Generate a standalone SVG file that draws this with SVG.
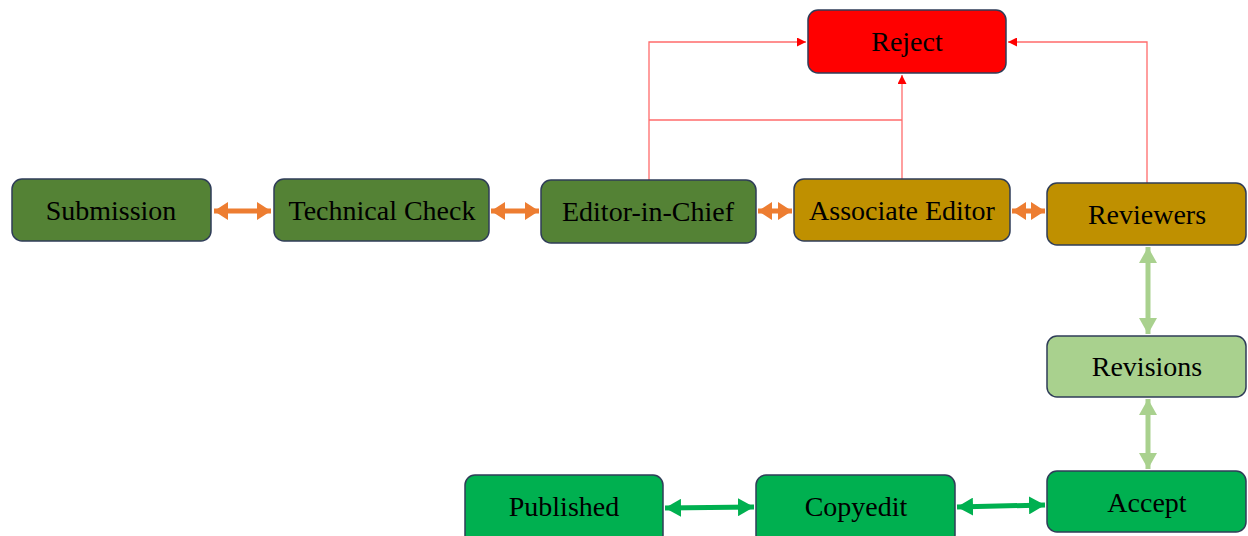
<svg xmlns="http://www.w3.org/2000/svg" width="1248" height="536" viewBox="0 0 1248 536">
<defs>
<style>
.box{stroke:#2F3D58;stroke-width:1.5}
.lbl{font-family:"Liberation Serif","Times New Roman",serif;font-size:28px;fill:#000;text-anchor:middle}
.olive{fill:#548235}.gold{fill:#BF9000}.red{fill:#FF0000}.lg{fill:#A9D18E}.gr{fill:#00B050}
.rl{stroke:#FF6B6B;stroke-width:1.3;fill:none}
.oa{stroke:#ED7D31;stroke-width:5;fill:none}
.la{stroke:#A9D18E;stroke-width:5;fill:none}
.ga{stroke:#00B050;stroke-width:5;fill:none}
</style>
<marker id="mo" viewBox="0 0 14 18" refX="14" refY="9" markerWidth="14" markerHeight="18" markerUnits="userSpaceOnUse" orient="auto-start-reverse"><path d="M0,0 L14,9 L0,18 Z" fill="#ED7D31"/></marker>
<marker id="ml" viewBox="0 0 16 18" refX="16" refY="9" markerWidth="16" markerHeight="18" markerUnits="userSpaceOnUse" orient="auto-start-reverse"><path d="M0,0 L16,9 L0,18 Z" fill="#A9D18E"/></marker>
<marker id="mg" viewBox="0 0 16 18" refX="16" refY="9" markerWidth="16" markerHeight="18" markerUnits="userSpaceOnUse" orient="auto-start-reverse"><path d="M0,0 L16,9 L0,18 Z" fill="#00B050"/></marker>
<marker id="mr" viewBox="0 0 9 9" refX="9" refY="4.5" markerWidth="9" markerHeight="9" markerUnits="userSpaceOnUse" orient="auto"><path d="M0,0 L9,4.5 L0,9 Z" fill="#FF0000"/></marker>
</defs>
<rect width="1248" height="536" fill="#fff"/>
<g id="connectors">
<polyline class="rl" points="649,180 649,42 806,42" marker-end="url(#mr)"/>
<line class="rl" x1="649" y1="120" x2="902" y2="120"/>
<line class="rl" x1="902" y1="179" x2="902" y2="75" marker-end="url(#mr)"/>
<polyline class="rl" points="1147,183 1147,42 1008,42" marker-end="url(#mr)"/>
<line class="oa" x1="214" y1="211" x2="271" y2="211" marker-start="url(#mo)" marker-end="url(#mo)"/>
<line class="oa" x1="491" y1="211" x2="539" y2="211" marker-start="url(#mo)" marker-end="url(#mo)"/>
<line class="oa" x1="758" y1="211" x2="792" y2="211" marker-start="url(#mo)" marker-end="url(#mo)"/>
<line class="oa" x1="1012" y1="211" x2="1045" y2="211" marker-start="url(#mo)" marker-end="url(#mo)"/>
<line class="la" x1="1148" y1="247" x2="1148" y2="334" marker-start="url(#ml)" marker-end="url(#ml)"/>
<line class="la" x1="1148" y1="399" x2="1148" y2="469" marker-start="url(#ml)" marker-end="url(#ml)"/>
<line class="ga" x1="665" y1="508" x2="754" y2="507" marker-start="url(#mg)" marker-end="url(#mg)"/>
<line class="ga" x1="957" y1="507" x2="1045" y2="505" marker-start="url(#mg)" marker-end="url(#mg)"/>
</g>
<g id="submission"><rect class="box olive" x="12" y="179" width="199" height="62" rx="10"/><text class="lbl" x="111" y="220">Submission</text></g>
<g id="technical-check"><rect class="box olive" x="274" y="179" width="215" height="62" rx="10"/><text class="lbl" x="382" y="220">Technical Check</text></g>
<g id="editor-in-chief"><rect class="box olive" x="541" y="180" width="215" height="63" rx="10"/><text class="lbl" x="648" y="221">Editor-in-Chief</text></g>
<g id="associate-editor"><rect class="box gold" x="794" y="179" width="216" height="62" rx="10"/><text class="lbl" x="902" y="220">Associate Editor</text></g>
<g id="reviewers"><rect class="box gold" x="1047" y="183" width="199" height="62" rx="10"/><text class="lbl" x="1147" y="224">Reviewers</text></g>
<g id="reject"><rect class="box red" x="808" y="10" width="198" height="63" rx="10"/><text class="lbl" x="907" y="51">Reject</text></g>
<g id="revisions"><rect class="box lg" x="1047" y="336" width="199" height="61" rx="10"/><text class="lbl" x="1147" y="376">Revisions</text></g>
<g id="accept"><rect class="box gr" x="1047" y="471" width="199" height="61" rx="10"/><text class="lbl" x="1147" y="512">Accept</text></g>
<g id="copyedit"><rect class="box gr" x="756" y="475" width="199" height="70" rx="10"/><text class="lbl" x="856" y="516">Copyedit</text></g>
<g id="published"><rect class="box gr" x="465" y="475" width="198" height="70" rx="10"/><text class="lbl" x="564" y="516">Published</text></g>
</svg>
